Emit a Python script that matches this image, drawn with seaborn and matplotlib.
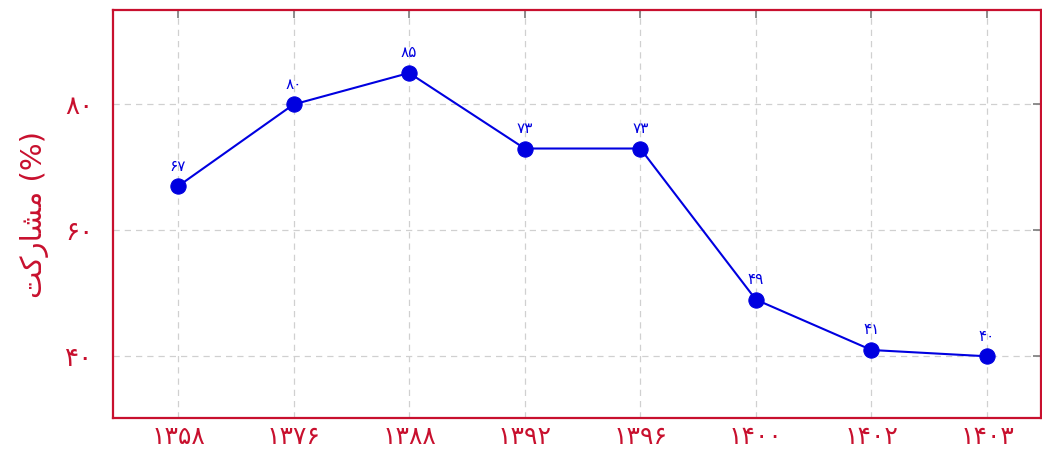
import matplotlib
matplotlib.use("Agg")
import matplotlib.pyplot as plt
import seaborn as sns
import pandas as pd

years = ["1358", "1376", "1388", "1392", "1396", "1400", "1402", "1403"]
turnout = [67, 80, 85, 73, 73, 49, 41, 40]
yticks = [40, 60, 80]

FA = str.maketrans("0123456789", "۰۱۲۳۴۵۶۷۸۹")
def fa(s):
    return str(s).translate(FA)

# "مشارکت (%)" in visual order using Arabic presentation forms (matplotlib has no shaping)
ylabel = "\uFE96\uFB90\uFEAD\uFE8E\uFEB8\uFEE3 (%)"

sns.set_theme(style="white")
plt.rcParams["font.family"] = ["DejaVu Sans"]

crimson = "#c8102e"
blue = "#0000e0"

df = pd.DataFrame({"x": range(len(years)), "y": turnout})

fig = plt.figure(figsize=(10.42, 4.53), dpi=100)
ax = fig.add_axes([113 / 1042, 1 - 418 / 453, (1041 - 113) / 1042, (418 - 10) / 453])

sns.lineplot(data=df, x="x", y="y", ax=ax, color=blue, linewidth=1.5,
             marker="o", markersize=11, markeredgecolor=blue, markerfacecolor=blue)

for i, v in enumerate(turnout):
    ax.annotate(fa(v), (i, v), xytext=(0, 9), textcoords="offset points",
                ha="center", va="bottom", color=blue, fontsize=11)

ax.set_xlim(-0.562, 7.467)
ax.set_ylim(30.2, 95.0)
ax.set_xticks(range(len(years)))
ax.set_xticklabels([fa(y) for y in years])
ax.set_yticks(yticks)
ax.set_yticklabels([fa(t) for t in yticks])

ax.grid(True, color="#d0d0d0", linestyle=(0, (5, 4)), linewidth=0.9)
ax.tick_params(axis="both", which="both", direction="in", length=6, color="#808080",
               labelcolor=crimson, top=True, right=True)
ax.tick_params(axis="x", labelsize=18, pad=5)
ax.tick_params(axis="y", labelsize=19, pad=14)
for s in ax.spines.values():
    s.set_color(crimson)
    s.set_linewidth(1.6)

ax.set_xlabel("")
ax.set_ylabel(ylabel, color=crimson, fontsize=21, labelpad=12)

fig.savefig("out.png", dpi=100)
